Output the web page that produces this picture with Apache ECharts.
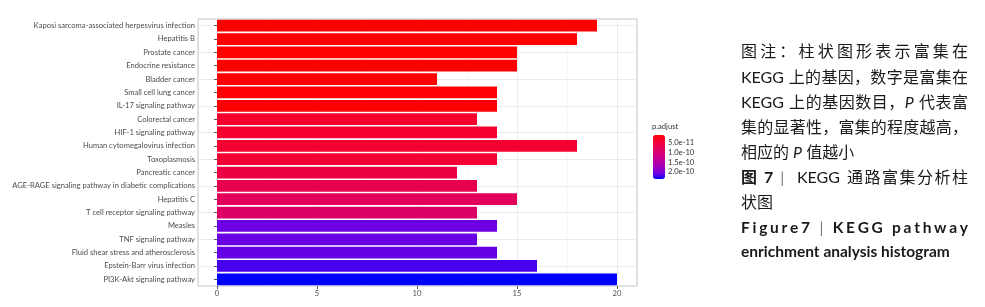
<!DOCTYPE html>
<html>
<head>
<meta charset="utf-8">
<script src="https://cdn.jsdelivr.net/npm/echarts@6/dist/echarts.min.js"></script>
<style>
  html, body { margin: 0; background: #fff; }
  #main { width: 985px; height: 307px; }
</style>
</head>
<body>
<div id="main"></div>
<script>
// KEGG pathways, top to bottom
const pathways = [
  "Kaposi sarcoma-associated herpesvirus infection",
  "Hepatitis B",
  "Prostate cancer",
  "Endocrine resistance",
  "Bladder cancer",
  "Small cell lung cancer",
  "IL-17 signaling pathway",
  "Colorectal cancer",
  "HIF-1 signaling pathway",
  "Human cytomegalovirus infection",
  "Toxoplasmosis",
  "Pancreatic cancer",
  "AGE-RAGE signaling pathway in diabetic complications",
  "Hepatitis C",
  "T cell receptor signaling pathway",
  "Measles",
  "TNF signaling pathway",
  "Fluid shear stress and atherosclerosis",
  "Epstein-Barr virus infection",
  "PI3K-Akt signaling pathway"
];
const geneCounts = [19, 18, 15, 15, 11, 14, 14, 13, 14, 18, 14, 12, 13, 15, 13, 14, 13, 14, 16, 20];
const pAdjust = [
  1.0e-11, 1.0e-11, 1.05e-11, 1.05e-11, 1.1e-11, 1.15e-11, 1.2e-11,
  3.6e-11, 3.7e-11, 3.8e-11, 4.1e-11, 5.5e-11, 6.7e-11, 7.8e-11, 8.9e-11,
  2.10e-10, 2.11e-10, 2.12e-10, 2.19e-10, 2.37e-10
];
const xTicks = [0, 5, 10, 15, 20];
const legendTicks = [5e-11, 1e-10, 1.5e-10, 2e-10];
const legendLabels = ["5.0e-11", "1.0e-10", "1.5e-10", "2.0e-10"];
// red -> blue, sampled along a Lab ramp like ggplot's gradient
const rampColors = ["#FF0000", "#F40031", "#E80050", "#DA006C", "#CA0089", "#B500A5", "#9A00C3", "#7300E1", "#0000FF"];

// caption beside the chart
const captionLines = [
  { y: 52,  just: true,  segs: [{ t: "图注：柱状图形表示富集在" }] },
  { y: 78,  just: true,  segs: [{ t: "KEGG 上的基因，数字是富集在" }] },
  { y: 103, just: true,  segs: [{ t: "KEGG 上的基因数目，" }, { t: "P", style: "italic" }, { t: " 代表富" }] },
  { y: 128, just: true,  segs: [{ t: "集的显著性，富集的程度越高，" }] },
  { y: 153, just: false, segs: [{ t: "相应的 " }, { t: "P", style: "italic" }, { t: " 值越小" }] },
  { y: 178, just: true,  segs: [{ t: "图 7", weight: "bold" }, { t: " | ", fill: "#777" }, { t: " KEGG 通路富集分析柱" }] },
  { y: 203, just: false, segs: [{ t: "状图" }] },
  { y: 228, just: true,  segs: [{ t: "Figure7", weight: "bold", spread: true, size: 15.5 }, { t: " | ", fill: "#777", size: 15.5 }, { t: "KEGG pathway", weight: "bold", spread: true, size: 15.5 }] },
  { y: 252, just: false, segs: [{ t: "enrichment analysis histogram", weight: "bold", size: 15.5 }] }
];

const FONT = 'Lato, "Noto Sans CJK SC", sans-serif';
const LABEL = "#4d4d4d";
const GRIDC = "#ebebeb";
const TICKFS = 7.6;

const pMin = Math.min(...pAdjust);
const pMax = Math.max(...pAdjust);

const measureCtx = document.createElement("canvas").getContext("2d");
function fontStr(s) {
  return `${s.style || "normal"} ${s.weight || "normal"} ${s.size || 16}px ${FONT}`;
}

function layoutLine(line, x0, width) {
  const units = [];
  line.segs.forEach(s => {
    let buf = "";
    const flush = () => { if (buf) { units.push({ text: buf, s }); buf = ""; } };
    for (const ch of s.t) {
      if (ch === " ") { flush(); units.push({ space: true, s }); continue; }
      if (!s.spread && /[\x21-\x7e]/.test(ch) && ch !== "|") { buf += ch; continue; }
      flush();
      units.push({ text: ch, s });
    }
    flush();
  });
  units.forEach(u => {
    measureCtx.font = fontStr(u.s);
    u.w = measureCtx.measureText(u.space ? " " : u.text).width;
  });
  const total = units.reduce((a, u) => a + u.w, 0);
  const gap = line.just && units.length > 1 ? (width - total) / (units.length - 1) : 0;
  let cx = x0;
  const els = [];
  units.forEach(u => {
    if (!u.space) {
      els.push({
        type: "text", x: cx, y: line.y,
        style: {
          text: u.text, fill: u.s.fill || "#1a1a1a",
          fontSize: u.s.size || 16, fontFamily: FONT,
          fontWeight: u.s.weight || "normal", fontStyle: u.s.style || "normal",
          verticalAlign: "middle"
        }
      });
    }
    cx += u.w + gap;
  });
  return els;
}

const chart = echarts.init(document.getElementById("main"));

// colour bar geometry
const cbTop = 135, cbHeight = 44, cbLeft = 653, cbWidth = 12;

const legendText = legendTicks.map((v, i) => ({
  type: "text",
  x: cbLeft + cbWidth + 3,
  y: cbTop + (v - pMin) / (pMax - pMin) * cbHeight,
  style: { text: legendLabels[i], fontSize: TICKFS, fontFamily: FONT, fill: "#333", verticalAlign: "middle" }
}));

const captionEls = [];
captionLines.forEach(l => captionEls.push(...layoutLine(l, 741, 227)));

chart.setOption({
  backgroundColor: "#fff",
  animation: false,
  grid: [
    // panel (ggplot limits -1..21)
    { left: 198, right: 348, top: 19, bottom: 21, show: true, borderColor: "#c4c4c4", borderWidth: 1, backgroundColor: "transparent" },
    // data area 0..20
    { left: 217, right: 368, top: 19, bottom: 21 }
  ],
  xAxis: [
    { gridIndex: 0, type: "value", min: -1, max: 21, show: false },
    {
      gridIndex: 1, type: "value", min: 0, max: 20, interval: 5,
      axisLine: { show: false },
      axisTick: { show: true, length: 3, lineStyle: { color: "#555" } },
      axisLabel: { fontSize: TICKFS, color: LABEL, fontFamily: FONT, margin: 4, customValues: xTicks },
      splitLine: { show: true, lineStyle: { color: GRIDC, width: 1 } },
      minorTick: { show: false, splitNumber: 2 },
      minorSplitLine: { show: true, lineStyle: { color: "#f6f6f6", width: 1 } }
    }
  ],
  yAxis: [
    {
      gridIndex: 0, type: "category", data: pathways, inverse: true,
      axisLine: { show: false }, axisTick: { show: false }, axisLabel: { show: false },
      splitLine: { show: true, alignWithLabel: true, lineStyle: { color: GRIDC, width: 1 } }
    },
    {
      gridIndex: 1, type: "category", data: pathways, inverse: true, offset: 19,
      axisLine: { show: false },
      axisTick: { show: true, length: 3, alignWithLabel: true, lineStyle: { color: "#555" } },
      axisLabel: { fontSize: TICKFS, color: LABEL, fontFamily: FONT, margin: 3 },
      splitLine: { show: false }
    }
  ],
  visualMap: {
    type: "continuous",
    seriesIndex: 0,
    dimension: 2,
    min: pMin,
    max: pMax,
    inverse: true,
    calculable: false,
    orient: "vertical",
    left: cbLeft,
    top: cbTop,
    itemWidth: cbWidth,
    itemHeight: cbHeight,
    padding: 0,
    text: null,
    inRange: { color: rampColors }
  },
  series: [{
    type: "bar",
    xAxisIndex: 1,
    yAxisIndex: 1,
    barCategoryGap: "12%",
    encode: { x: 0, y: 1 },
    data: pathways.map((name, i) => [geneCounts[i], name, pAdjust[i]])
  }],
  graphic: [
    {
      type: "text", x: cbLeft - 1, y: cbTop - 8,
      style: { text: "p.adjust", fontSize: TICKFS, fontFamily: FONT, fill: "#333", verticalAlign: "middle" }
    },
    ...legendText,
    ...captionEls
  ]
});
</script>
</body>
</html>
